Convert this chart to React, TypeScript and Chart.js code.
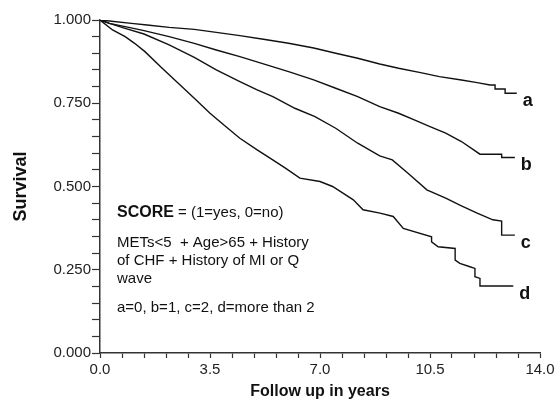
import React, { useEffect, useRef } from "react";
import { Chart, registerables } from "chart.js";

Chart.register(...registerables);

// Kaplan-Meier curves (years, survival); repeated years mark visible drops
const aYears = [0, 0.3, 1.0, 1.5, 2.2, 3.0, 3.7, 4.45, 5.2, 6.0, 6.8, 7.5, 8.2, 8.9, 9.5, 10.2, 10.8, 11.5, 12.0, 12.41, 12.57, 12.57, 12.89, 12.89, 13.26];
const aSurv = [1.0, 0.997, 0.99, 0.985, 0.978, 0.972, 0.963, 0.953, 0.942, 0.93, 0.916, 0.9, 0.885, 0.868, 0.855, 0.842, 0.83, 0.82, 0.812, 0.805, 0.805, 0.793, 0.793, 0.78, 0.78];

const bYears = [0, 0.3, 0.8, 1.4, 2.2, 3.0, 3.7, 4.45, 5.2, 6.0, 6.8, 7.5, 8.2, 8.9, 9.5, 10.0, 10.5, 11.0, 11.5, 12.09, 12.78, 12.78, 13.2];
const bSurv = [1.0, 0.99, 0.98, 0.968, 0.95, 0.93, 0.91, 0.89, 0.868, 0.845, 0.82, 0.795, 0.77, 0.74, 0.72, 0.7, 0.68, 0.66, 0.635, 0.597, 0.597, 0.587, 0.587];

const cYears = [0, 0.3, 0.8, 1.4, 2.2, 3.0, 3.7, 4.45, 5.0, 5.5, 6.2, 6.84, 7.5, 8.2, 8.9, 9.3, 9.8, 10.4, 11.0, 11.45, 12.0, 12.5, 12.78, 12.78, 13.2];
const cSurv = [1.0, 0.99, 0.975, 0.958, 0.925, 0.888, 0.85, 0.815, 0.79, 0.77, 0.735, 0.71, 0.675, 0.63, 0.592, 0.58, 0.54, 0.49, 0.465, 0.444, 0.42, 0.4, 0.396, 0.354, 0.354];

const dYears = [0, 0.4, 0.8, 1.1, 1.43, 1.97, 2.49, 3.0, 3.5, 4.0, 4.45, 5.0, 5.41, 5.9, 6.36, 7.0, 7.4, 8.06, 8.37, 8.91, 9.33, 9.65, 10.55, 10.55, 10.76, 11.3, 11.3, 11.45, 11.77, 11.93, 11.93, 12.09, 12.09, 13.15];
const dSurv = [1.0, 0.97, 0.95, 0.93, 0.905, 0.856, 0.81, 0.765, 0.72, 0.68, 0.645, 0.61, 0.585, 0.555, 0.525, 0.515, 0.5, 0.46, 0.43, 0.42, 0.41, 0.374, 0.349, 0.334, 0.319, 0.314, 0.279, 0.269, 0.259, 0.254, 0.229, 0.224, 0.201, 0.201];

const curveNames = ["a", "b", "c", "d"];
const xMajorTicks = [0, 3.5, 7, 10.5, 14];
const yMajorTicks = [0, 0.25, 0.5, 0.75, 1];

const scoreTitle = "SCORE";
const scoreRest = " = (1=yes, 0=no)";
const noteLines = ["METs<5  + Age>65 + History", "of CHF + History of MI or Q", "wave"];
const legendLine = "a=0, b=1, c=2, d=more than 2";

const isMajor = (v: number, majors: number[]) => majors.some((m) => Math.abs(m - v) < 1e-6);

export default function App() {
  const ref = useRef<HTMLCanvasElement | null>(null);

  useEffect(() => {
    if (!ref.current) return;
    const series = [
      [aYears, aSurv],
      [bYears, bSurv],
      [cYears, cSurv],
      [dYears, dSurv],
    ];
    const textPlugin = {
      id: "kmText",
      afterDraw(chart: any) {
        const ctx = chart.ctx;
        const { left, top } = chart.chartArea;
        ctx.save();
        ctx.fillStyle = "#111";
        ctx.textBaseline = "middle";
        ctx.textAlign = "left";
        ctx.font = "bold 18px 'Liberation Sans Narrow', 'Liberation Sans', Arial, sans-serif";
        chart.data.datasets.forEach((ds: any, i: number) => {
          const last = ds.data[ds.data.length - 1];
          const px = chart.scales.x.getPixelForValue(last.x);
          const py = chart.scales.y.getPixelForValue(last.y);
          ctx.fillText(curveNames[i], px + 6, py + 8);
        });
        const tx = left + 17;
        ctx.font = "bold 16px 'Liberation Sans', Arial, sans-serif";
        ctx.fillText(scoreTitle, tx, top + 193);
        const w = ctx.measureText(scoreTitle).width;
        ctx.font = "15px 'Liberation Sans', Arial, sans-serif";
        ctx.fillText(scoreRest, tx + w, top + 193);
        noteLines.forEach((l, i) => ctx.fillText(l, tx, top + 223 + i * 18));
        ctx.fillText(legendLine, tx, top + 288);
        ctx.restore();
      },
    };

    const chart = new Chart(ref.current, {
      type: "line",
      data: {
        datasets: series.map(([xs, ys]) => ({
          data: xs.map((x, i) => ({ x, y: ys[i] })),
          borderColor: "#111",
          borderWidth: 1.4,
          tension: 0,
          pointRadius: 0,
          fill: false,
        })),
      },
      options: {
        responsive: false,
        animation: false,
        events: [],
        layout: { padding: { left: 0, right: 19, top: 20, bottom: 0 } },
        plugins: { legend: { display: false }, tooltip: { enabled: false } },
        scales: {
          x: {
            type: "linear",
            min: 0,
            max: 14,
            afterFit: (s: any) => {
              s.height = 49;
            },
            border: { display: true, color: "#333", width: 1.5 },
            grid: { drawOnChartArea: false, drawTicks: true, tickLength: 5, color: "#333", tickWidth: 1.2 },
            ticks: {
              stepSize: 0.7,
              autoSkip: false,
              maxRotation: 0,
              padding: 3,
              color: "#222",
              font: { family: "'Liberation Sans', Arial, sans-serif", size: 15 },
              callback: (v: any) => (isMajor(Number(v), xMajorTicks) ? Number(v).toFixed(1) : ""),
            },
            title: {
              display: true,
              text: "Follow up in years",
              color: "#111",
              font: { family: "'Liberation Sans', Arial, sans-serif", size: 16, weight: "bold" },
              padding: { top: 0, bottom: 1 },
            },
          },
          y: {
            type: "linear",
            min: 0,
            max: 1,
            afterFit: (s: any) => {
              s.width = 100;
            },
            border: { display: true, color: "#333", width: 1.5 },
            grid: { drawOnChartArea: false, drawTicks: true, tickLength: 8, color: "#333", tickWidth: 1.2 },
            ticks: {
              stepSize: 0.05,
              autoSkip: false,
              padding: 1,
              color: "#222",
              font: { family: "'Liberation Sans', Arial, sans-serif", size: 15 },
              callback: (v: any) => (isMajor(Number(v), yMajorTicks) ? Number(v).toFixed(3) : ""),
            },
            title: {
              display: true,
              text: "Survival",
              color: "#111",
              font: { family: "'Liberation Sans', Arial, sans-serif", size: 18, weight: "bold" },
              padding: { top: 10, bottom: 0 },
            },
          },
        },
      },
      plugins: [textPlugin],
    } as any);
    return () => chart.destroy();
  }, []);

  return (
    <div style={{ position: "fixed", left: 0, top: 0, width: 559, height: 402, background: "#fff" }}>
      <canvas ref={ref} width={559} height={402} />
    </div>
  );
}
